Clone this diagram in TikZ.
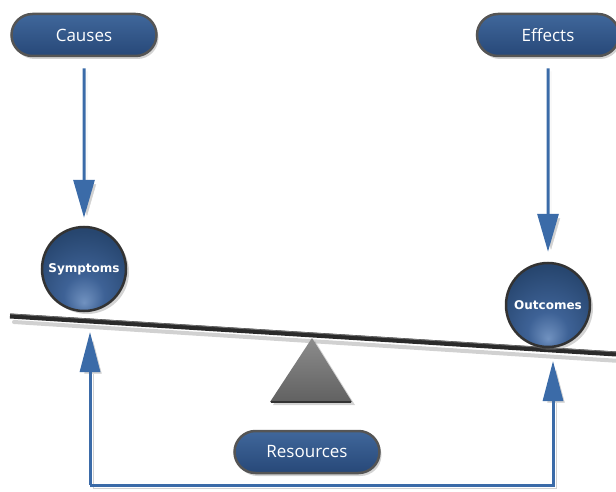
\documentclass[tikz,border=0pt]{standalone}
\usepackage{fontspec}
\setmainfont{Open Sans}
\newfontfamily\ballfont{DejaVu Sans}
\usetikzlibrary{arrows.meta,shadows,shapes.misc}
\definecolor{pilltop}{HTML}{40679B}
\definecolor{pillbot}{HTML}{274878}
\definecolor{rimgray}{HTML}{555555}
\definecolor{arrowblue}{HTML}{3B6BA8}
\definecolor{ballhi}{HTML}{7192C0}
\definecolor{ballmid}{HTML}{3E6296}
\definecolor{balldark}{HTML}{27466F}
\definecolor{beamdark}{HTML}{2A2A2A}
\pgfdeclareradialshading{ballshade}{\pgfpoint{0bp}{-20bp}}{color(0bp)=(ballhi); color(12bp)=(ballmid); color(32bp)=(balldark); color(60bp)=(balldark!75!black)}
\tikzset{
  pill/.style={rounded rectangle, minimum width=145pt, minimum height=42pt, inner sep=0pt,
    draw=rimgray, line width=2.5pt, top color=pilltop, bottom color=pillbot,
    text=white, font=\fontsize{17}{20}\selectfont,
    drop shadow={shadow xshift=2pt, shadow yshift=-3pt, opacity=0.35}},
  ball/.style={circle, minimum size=84pt, inner sep=0pt, draw=black!80, line width=2.5pt,
    shading=ballshade, text=white, font=\ballfont\bfseries\fontsize{12}{14}\selectfont,
    drop shadow={shadow xshift=3pt, shadow yshift=-3pt, opacity=0.35}},
  conn/.style={draw=arrowblue, line width=3pt,
    preaction={draw=black!18, transform canvas={shift={(3pt,-3pt)}}}},
  downtip/.style={-{Triangle[length=38pt,width=21pt]}},
  uptip/.style={-{Triangle[length=40pt,width=20pt]}},
}
\begin{document}
\begin{tikzpicture}[x=1pt,y=-1pt]
\useasboundingbox (0,0) rectangle (616,492);

% beam
\draw[line width=4pt, black!18, line cap=round] (14,322) -- (620,361);
\draw[line width=5pt, beamdark] (10,316) -- (616,354);
\draw[line width=0.8pt, black!55] (10,314) -- (616,352);

% fulcrum
\path[top color=black!45, bottom color=black!62, drop shadow={shadow xshift=3pt, shadow yshift=-3pt, opacity=0.35}]
  (312,338) -- (270,402) -- (352,402) -- cycle;
\draw[line width=2pt, black!80] (271,401.5) -- (351,401.5);

% nodes
\node[pill] (causes) at (84,35) {Causes};
\node[pill, minimum width=142pt] (effects) at (548,35) {Effects};
\node[pill] (resources) at (307,452) {Resources};
\node[ball] (symptoms) at (84,269) {Symptoms};
\node[ball] (outcomes) at (548,305) {Outcomes};

\coordinate (bl) at (90,485);
\coordinate (br) at (553,485);
\coordinate (lt) at (90,332);
\coordinate (rt) at (553,361);

% connectors
\draw[conn, downtip, shorten <=11pt, shorten >=8pt] (causes) -- (symptoms);
\draw[conn, downtip, shorten <=11pt, shorten >=10pt] (effects) -- (outcomes);
\draw[conn, uptip] (bl) -- (lt);
\draw[conn, uptip] (bl) -- (br) -- (rt);
\end{tikzpicture}
\end{document}
